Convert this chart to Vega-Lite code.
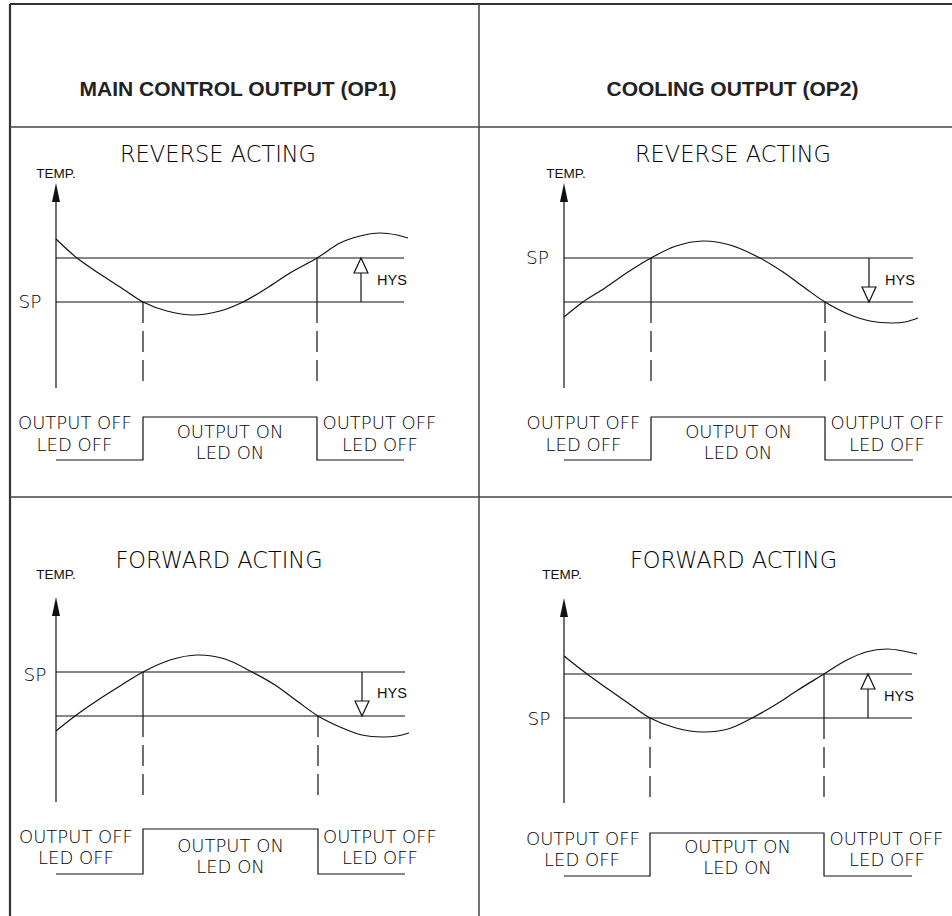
{
  "$schema": "https://vega.github.io/schema/vega-lite/v6.json",
  "width": 952,
  "height": 916,
  "autosize": {"type": "none"},
  "padding": 0,
  "background": "white",
  "config": {"view": {"stroke": null}},
  "datasets": {
    "frame": [
      {"edge": "outer", "x": 10, "y": 4, "x2": 952, "y2": 4},
      {"edge": "outer", "x": 10, "y": 4, "x2": 10, "y2": 916},
      {"edge": "inner", "x": 479, "y": 4, "x2": 479, "y2": 916},
      {"edge": "inner", "x": 10, "y": 127, "x2": 952, "y2": 127},
      {"edge": "inner", "x": 10, "y": 497, "x2": 952, "y2": 497}
    ],
    "segments": [
      {"kind": "solid", "x": 56, "y": 258, "x2": 404, "y2": 258},
      {"kind": "solid", "x": 56, "y": 302, "x2": 404, "y2": 302},
      {"kind": "solid", "x": 564, "y": 258, "x2": 913, "y2": 258},
      {"kind": "solid", "x": 564, "y": 302, "x2": 913, "y2": 302},
      {"kind": "solid", "x": 56, "y": 672, "x2": 405, "y2": 672},
      {"kind": "solid", "x": 56, "y": 716, "x2": 405, "y2": 716},
      {"kind": "solid", "x": 564, "y": 674, "x2": 912, "y2": 674},
      {"kind": "solid", "x": 564, "y": 718, "x2": 912, "y2": 718},
      {"kind": "solid", "x": 56, "y": 188, "x2": 56, "y2": 388},
      {"kind": "solid", "x": 564, "y": 188, "x2": 564, "y2": 388},
      {"kind": "solid", "x": 56, "y": 602, "x2": 56, "y2": 802},
      {"kind": "solid", "x": 564, "y": 603, "x2": 564, "y2": 803},
      {"kind": "solid", "x": 317, "y": 258, "x2": 317, "y2": 302},
      {"kind": "solid", "x": 361, "y": 258, "x2": 361, "y2": 302},
      {"kind": "solid", "x": 651, "y": 258, "x2": 651, "y2": 302},
      {"kind": "solid", "x": 869, "y": 258, "x2": 869, "y2": 302},
      {"kind": "solid", "x": 143, "y": 672, "x2": 143, "y2": 716},
      {"kind": "solid", "x": 362, "y": 672, "x2": 362, "y2": 716},
      {"kind": "solid", "x": 824, "y": 674, "x2": 824, "y2": 718},
      {"kind": "solid", "x": 868, "y": 674, "x2": 868, "y2": 718},
      {"kind": "dashed", "x": 143, "y": 302, "x2": 143, "y2": 389},
      {"kind": "dashed", "x": 317, "y": 302, "x2": 317, "y2": 389},
      {"kind": "dashed", "x": 651, "y": 302, "x2": 651, "y2": 389},
      {"kind": "dashed", "x": 825, "y": 302, "x2": 825, "y2": 389},
      {"kind": "dashed", "x": 143, "y": 716, "x2": 143, "y2": 803},
      {"kind": "dashed", "x": 318, "y": 716, "x2": 318, "y2": 803},
      {"kind": "dashed", "x": 650, "y": 718, "x2": 650, "y2": 804},
      {"kind": "dashed", "x": 824, "y": 718, "x2": 824, "y2": 804}
    ],
    "paths": [
      {"kind": "curve", "id": "c_lt", "ord": 1, "x": 56, "y": 239},
      {"kind": "curve", "id": "c_lt", "ord": 2, "x": 77, "y": 258},
      {"kind": "curve", "id": "c_lt", "ord": 3, "x": 100, "y": 274},
      {"kind": "curve", "id": "c_lt", "ord": 4, "x": 120, "y": 287},
      {"kind": "curve", "id": "c_lt", "ord": 5, "x": 143, "y": 302},
      {"kind": "curve", "id": "c_lt", "ord": 6, "x": 167, "y": 311},
      {"kind": "curve", "id": "c_lt", "ord": 7, "x": 193, "y": 315},
      {"kind": "curve", "id": "c_lt", "ord": 8, "x": 220, "y": 311},
      {"kind": "curve", "id": "c_lt", "ord": 9, "x": 243, "y": 302},
      {"kind": "curve", "id": "c_lt", "ord": 10, "x": 267, "y": 288},
      {"kind": "curve", "id": "c_lt", "ord": 11, "x": 290, "y": 273},
      {"kind": "curve", "id": "c_lt", "ord": 12, "x": 317, "y": 258},
      {"kind": "curve", "id": "c_lt", "ord": 13, "x": 340, "y": 243},
      {"kind": "curve", "id": "c_lt", "ord": 14, "x": 360, "y": 236},
      {"kind": "curve", "id": "c_lt", "ord": 15, "x": 380, "y": 233},
      {"kind": "curve", "id": "c_lt", "ord": 16, "x": 397, "y": 235},
      {"kind": "curve", "id": "c_lt", "ord": 17, "x": 408, "y": 238},
      {"kind": "curve", "id": "c_rt", "ord": 1, "x": 564, "y": 317},
      {"kind": "curve", "id": "c_rt", "ord": 2, "x": 583, "y": 302},
      {"kind": "curve", "id": "c_rt", "ord": 3, "x": 605, "y": 288},
      {"kind": "curve", "id": "c_rt", "ord": 4, "x": 628, "y": 272},
      {"kind": "curve", "id": "c_rt", "ord": 5, "x": 651, "y": 258},
      {"kind": "curve", "id": "c_rt", "ord": 6, "x": 676, "y": 246},
      {"kind": "curve", "id": "c_rt", "ord": 7, "x": 703, "y": 241},
      {"kind": "curve", "id": "c_rt", "ord": 8, "x": 730, "y": 245},
      {"kind": "curve", "id": "c_rt", "ord": 9, "x": 760, "y": 258},
      {"kind": "curve", "id": "c_rt", "ord": 10, "x": 783, "y": 272},
      {"kind": "curve", "id": "c_rt", "ord": 11, "x": 805, "y": 288},
      {"kind": "curve", "id": "c_rt", "ord": 12, "x": 825, "y": 302},
      {"kind": "curve", "id": "c_rt", "ord": 13, "x": 848, "y": 314},
      {"kind": "curve", "id": "c_rt", "ord": 14, "x": 870, "y": 321},
      {"kind": "curve", "id": "c_rt", "ord": 15, "x": 892, "y": 323},
      {"kind": "curve", "id": "c_rt", "ord": 16, "x": 905, "y": 322},
      {"kind": "curve", "id": "c_rt", "ord": 17, "x": 918, "y": 318},
      {"kind": "curve", "id": "c_lb", "ord": 1, "x": 56, "y": 731},
      {"kind": "curve", "id": "c_lb", "ord": 2, "x": 75, "y": 716},
      {"kind": "curve", "id": "c_lb", "ord": 3, "x": 98, "y": 700},
      {"kind": "curve", "id": "c_lb", "ord": 4, "x": 120, "y": 686},
      {"kind": "curve", "id": "c_lb", "ord": 5, "x": 143, "y": 672},
      {"kind": "curve", "id": "c_lb", "ord": 6, "x": 170, "y": 660},
      {"kind": "curve", "id": "c_lb", "ord": 7, "x": 197, "y": 655},
      {"kind": "curve", "id": "c_lb", "ord": 8, "x": 225, "y": 659},
      {"kind": "curve", "id": "c_lb", "ord": 9, "x": 252, "y": 672},
      {"kind": "curve", "id": "c_lb", "ord": 10, "x": 275, "y": 685},
      {"kind": "curve", "id": "c_lb", "ord": 11, "x": 297, "y": 701},
      {"kind": "curve", "id": "c_lb", "ord": 12, "x": 318, "y": 716},
      {"kind": "curve", "id": "c_lb", "ord": 13, "x": 340, "y": 727},
      {"kind": "curve", "id": "c_lb", "ord": 14, "x": 362, "y": 735},
      {"kind": "curve", "id": "c_lb", "ord": 15, "x": 383, "y": 737},
      {"kind": "curve", "id": "c_lb", "ord": 16, "x": 397, "y": 736},
      {"kind": "curve", "id": "c_lb", "ord": 17, "x": 409, "y": 733},
      {"kind": "curve", "id": "c_rb", "ord": 1, "x": 564, "y": 656},
      {"kind": "curve", "id": "c_rb", "ord": 2, "x": 587, "y": 674},
      {"kind": "curve", "id": "c_rb", "ord": 3, "x": 608, "y": 689},
      {"kind": "curve", "id": "c_rb", "ord": 4, "x": 628, "y": 703},
      {"kind": "curve", "id": "c_rb", "ord": 5, "x": 650, "y": 718},
      {"kind": "curve", "id": "c_rb", "ord": 6, "x": 676, "y": 728},
      {"kind": "curve", "id": "c_rb", "ord": 7, "x": 703, "y": 732},
      {"kind": "curve", "id": "c_rb", "ord": 8, "x": 728, "y": 729},
      {"kind": "curve", "id": "c_rb", "ord": 9, "x": 752, "y": 718},
      {"kind": "curve", "id": "c_rb", "ord": 10, "x": 775, "y": 705},
      {"kind": "curve", "id": "c_rb", "ord": 11, "x": 798, "y": 690},
      {"kind": "curve", "id": "c_rb", "ord": 12, "x": 824, "y": 674},
      {"kind": "curve", "id": "c_rb", "ord": 13, "x": 845, "y": 661},
      {"kind": "curve", "id": "c_rb", "ord": 14, "x": 866, "y": 652},
      {"kind": "curve", "id": "c_rb", "ord": 15, "x": 887, "y": 649},
      {"kind": "curve", "id": "c_rb", "ord": 16, "x": 903, "y": 651},
      {"kind": "curve", "id": "c_rb", "ord": 17, "x": 917, "y": 654},
      {"kind": "step", "id": "s_lt", "ord": 1, "x": 56, "y": 460},
      {"kind": "step", "id": "s_lt", "ord": 2, "x": 143, "y": 460},
      {"kind": "step", "id": "s_lt", "ord": 3, "x": 143, "y": 417},
      {"kind": "step", "id": "s_lt", "ord": 4, "x": 317, "y": 417},
      {"kind": "step", "id": "s_lt", "ord": 5, "x": 317, "y": 460},
      {"kind": "step", "id": "s_lt", "ord": 6, "x": 404, "y": 460},
      {"kind": "step", "id": "s_rt", "ord": 1, "x": 564, "y": 460},
      {"kind": "step", "id": "s_rt", "ord": 2, "x": 651, "y": 460},
      {"kind": "step", "id": "s_rt", "ord": 3, "x": 651, "y": 417},
      {"kind": "step", "id": "s_rt", "ord": 4, "x": 825, "y": 417},
      {"kind": "step", "id": "s_rt", "ord": 5, "x": 825, "y": 460},
      {"kind": "step", "id": "s_rt", "ord": 6, "x": 913, "y": 460},
      {"kind": "step", "id": "s_lb", "ord": 1, "x": 56, "y": 874},
      {"kind": "step", "id": "s_lb", "ord": 2, "x": 143, "y": 874},
      {"kind": "step", "id": "s_lb", "ord": 3, "x": 143, "y": 829},
      {"kind": "step", "id": "s_lb", "ord": 4, "x": 318, "y": 829},
      {"kind": "step", "id": "s_lb", "ord": 5, "x": 318, "y": 874},
      {"kind": "step", "id": "s_lb", "ord": 6, "x": 405, "y": 874},
      {"kind": "step", "id": "s_rb", "ord": 1, "x": 564, "y": 876},
      {"kind": "step", "id": "s_rb", "ord": 2, "x": 650, "y": 876},
      {"kind": "step", "id": "s_rb", "ord": 3, "x": 650, "y": 833},
      {"kind": "step", "id": "s_rb", "ord": 4, "x": 824, "y": 833},
      {"kind": "step", "id": "s_rb", "ord": 5, "x": 824, "y": 876},
      {"kind": "step", "id": "s_rb", "ord": 6, "x": 912, "y": 876}
    ],
    "arrows": [
      {"kind": "axis", "x": 56, "y": 192.5},
      {"kind": "axis", "x": 564, "y": 192.5},
      {"kind": "axis", "x": 56, "y": 606.5},
      {"kind": "axis", "x": 564, "y": 607.5},
      {"kind": "hysUp", "x": 361, "y": 265.5},
      {"kind": "hysUp", "x": 868, "y": 681.5},
      {"kind": "hysDown", "x": 869, "y": 294.5},
      {"kind": "hysDown", "x": 362, "y": 708.5}
    ],
    "labels": [
      {"role": "header", "text": "MAIN CONTROL OUTPUT (OP1)", "x": 238, "y": 95.5},
      {"role": "header", "text": "COOLING OUTPUT (OP2)", "x": 732.5, "y": 95.5},
      {"role": "title", "text": "REVERSE ACTING", "x": 218, "y": 162},
      {"role": "title", "text": "REVERSE ACTING", "x": 733, "y": 162},
      {"role": "title", "text": "FORWARD ACTING", "x": 219, "y": 568},
      {"role": "title", "text": "FORWARD ACTING", "x": 733.5, "y": 568},
      {"role": "temp", "text": "TEMP.", "x": 56, "y": 178},
      {"role": "temp", "text": "TEMP.", "x": 566, "y": 178},
      {"role": "temp", "text": "TEMP.", "x": 56, "y": 579},
      {"role": "temp", "text": "TEMP.", "x": 562, "y": 579},
      {"role": "sp", "text": "SP", "x": 30, "y": 308},
      {"role": "sp", "text": "SP", "x": 537.5, "y": 264},
      {"role": "sp", "text": "SP", "x": 35, "y": 681},
      {"role": "sp", "text": "SP", "x": 539, "y": 725},
      {"role": "hys", "text": "HYS", "x": 392, "y": 284.5},
      {"role": "hys", "text": "HYS", "x": 900, "y": 285},
      {"role": "hys", "text": "HYS", "x": 392, "y": 698},
      {"role": "hys", "text": "HYS", "x": 899, "y": 700.5},
      {"role": "state", "text": "OUTPUT OFF", "x": 75, "y": 429},
      {"role": "state", "text": "LED OFF", "x": 74.5, "y": 451},
      {"role": "state", "text": "OUTPUT ON", "x": 230, "y": 438},
      {"role": "state", "text": "LED ON", "x": 230, "y": 459},
      {"role": "state", "text": "OUTPUT OFF", "x": 379.5, "y": 429},
      {"role": "state", "text": "LED OFF", "x": 380, "y": 451},
      {"role": "state", "text": "OUTPUT OFF", "x": 583.5, "y": 429},
      {"role": "state", "text": "LED OFF", "x": 583.5, "y": 451},
      {"role": "state", "text": "OUTPUT ON", "x": 738.5, "y": 438},
      {"role": "state", "text": "LED ON", "x": 738, "y": 459},
      {"role": "state", "text": "OUTPUT OFF", "x": 887.5, "y": 429},
      {"role": "state", "text": "LED OFF", "x": 887, "y": 451},
      {"role": "state", "text": "OUTPUT OFF", "x": 76, "y": 843},
      {"role": "state", "text": "LED OFF", "x": 76, "y": 864},
      {"role": "state", "text": "OUTPUT ON", "x": 230.5, "y": 852},
      {"role": "state", "text": "LED ON", "x": 230.5, "y": 873},
      {"role": "state", "text": "OUTPUT OFF", "x": 380, "y": 843},
      {"role": "state", "text": "LED OFF", "x": 380, "y": 864},
      {"role": "state", "text": "OUTPUT OFF", "x": 583, "y": 845},
      {"role": "state", "text": "LED OFF", "x": 582, "y": 866},
      {"role": "state", "text": "OUTPUT ON", "x": 737.5, "y": 853},
      {"role": "state", "text": "LED ON", "x": 737.5, "y": 874},
      {"role": "state", "text": "OUTPUT OFF", "x": 886.5, "y": 845},
      {"role": "state", "text": "LED OFF", "x": 887, "y": 866}
    ]
  },
  "encoding": {
    "x": {"field": "x", "type": "quantitative", "scale": {"domain": [0, 952], "nice": false, "zero": false}, "axis": null},
    "y": {"field": "y", "type": "quantitative", "scale": {"domain": [0, 916], "nice": false, "zero": false, "reverse": true}, "axis": null}
  },
  "layer": [
    {
      "data": {"name": "frame"},
      "transform": [{"filter": "datum.edge === 'outer'"}],
      "mark": {"type": "rule", "color": "#333333", "strokeWidth": 2.2},
      "encoding": {"x2": {"field": "x2"}, "y2": {"field": "y2"}}
    },
    {
      "data": {"name": "frame"},
      "transform": [{"filter": "datum.edge === 'inner'"}],
      "mark": {"type": "rule", "color": "#444444", "strokeWidth": 1.5},
      "encoding": {"x2": {"field": "x2"}, "y2": {"field": "y2"}}
    },
    {
      "data": {"name": "segments"},
      "transform": [{"filter": "datum.kind === 'solid'"}],
      "mark": {"type": "rule", "color": "#111111", "strokeWidth": 1.2},
      "encoding": {"x2": {"field": "x2"}, "y2": {"field": "y2"}}
    },
    {
      "data": {"name": "segments"},
      "transform": [{"filter": "datum.kind === 'dashed'"}],
      "mark": {"type": "rule", "color": "#111111", "strokeWidth": 1.2, "strokeDash": [21, 8]},
      "encoding": {"x2": {"field": "x2"}, "y2": {"field": "y2"}}
    },
    {
      "data": {"name": "paths"},
      "transform": [{"filter": "datum.kind === 'curve'"}],
      "mark": {"type": "line", "color": "#111111", "strokeWidth": 1.2, "interpolate": "catmull-rom"},
      "encoding": {"detail": {"field": "id"}, "order": {"field": "ord", "type": "quantitative"}}
    },
    {
      "data": {"name": "paths"},
      "transform": [{"filter": "datum.kind === 'step'"}],
      "mark": {"type": "line", "color": "#111111", "strokeWidth": 1.2, "interpolate": "linear"},
      "encoding": {"detail": {"field": "id"}, "order": {"field": "ord", "type": "quantitative"}}
    },
    {
      "data": {"name": "arrows"},
      "transform": [{"filter": "datum.kind === 'axis'"}],
      "mark": {"type": "point", "shape": "M0,-1L0.42,1L-0.42,1Z", "size": 361, "filled": true, "color": "#111111", "opacity": 1}
    },
    {
      "data": {"name": "arrows"},
      "transform": [{"filter": "datum.kind === 'hysUp'"}],
      "mark": {"type": "point", "shape": "M0,-1L0.93,1L-0.93,1Z", "size": 225, "fill": "white", "fillOpacity": 1, "stroke": "#111111", "strokeWidth": 1.2, "opacity": 1}
    },
    {
      "data": {"name": "arrows"},
      "transform": [{"filter": "datum.kind === 'hysDown'"}],
      "mark": {"type": "point", "shape": "M0,1L0.93,-1L-0.93,-1Z", "size": 225, "fill": "white", "fillOpacity": 1, "stroke": "#111111", "strokeWidth": 1.2, "opacity": 1}
    },
    {
      "data": {"name": "labels"},
      "transform": [{"filter": "datum.role === 'header'"}],
      "mark": {"type": "text", "font": "Liberation Sans", "fontWeight": "bold", "fontSize": 21, "color": "#222222", "align": "center", "baseline": "alphabetic"},
      "encoding": {"text": {"field": "text"}}
    },
    {
      "data": {"name": "labels"},
      "transform": [{"filter": "datum.role === 'title'"}],
      "mark": {"type": "text", "font": "DejaVu Sans", "fontWeight": 200, "fontSize": 22.5, "color": "#000000", "align": "center", "baseline": "alphabetic"},
      "encoding": {"text": {"field": "text"}}
    },
    {
      "data": {"name": "labels"},
      "transform": [{"filter": "datum.role === 'state'"}],
      "mark": {"type": "text", "font": "DejaVu Sans", "fontWeight": 200, "fontSize": 18, "color": "#000000", "align": "center", "baseline": "alphabetic"},
      "encoding": {"text": {"field": "text"}}
    },
    {
      "data": {"name": "labels"},
      "transform": [{"filter": "datum.role === 'sp'"}],
      "mark": {"type": "text", "font": "DejaVu Sans", "fontWeight": 200, "fontSize": 18.5, "color": "#000000", "align": "center", "baseline": "alphabetic"},
      "encoding": {"text": {"field": "text"}}
    },
    {
      "data": {"name": "labels"},
      "transform": [{"filter": "datum.role === 'temp'"}],
      "mark": {"type": "text", "font": "Liberation Sans", "fontSize": 13.5, "color": "#111111", "align": "center", "baseline": "alphabetic"},
      "encoding": {"text": {"field": "text"}}
    },
    {
      "data": {"name": "labels"},
      "transform": [{"filter": "datum.role === 'hys'"}],
      "mark": {"type": "text", "font": "Liberation Sans", "fontSize": 14.5, "color": "#111111", "align": "center", "baseline": "alphabetic"},
      "encoding": {"text": {"field": "text"}}
    }
  ]
}
